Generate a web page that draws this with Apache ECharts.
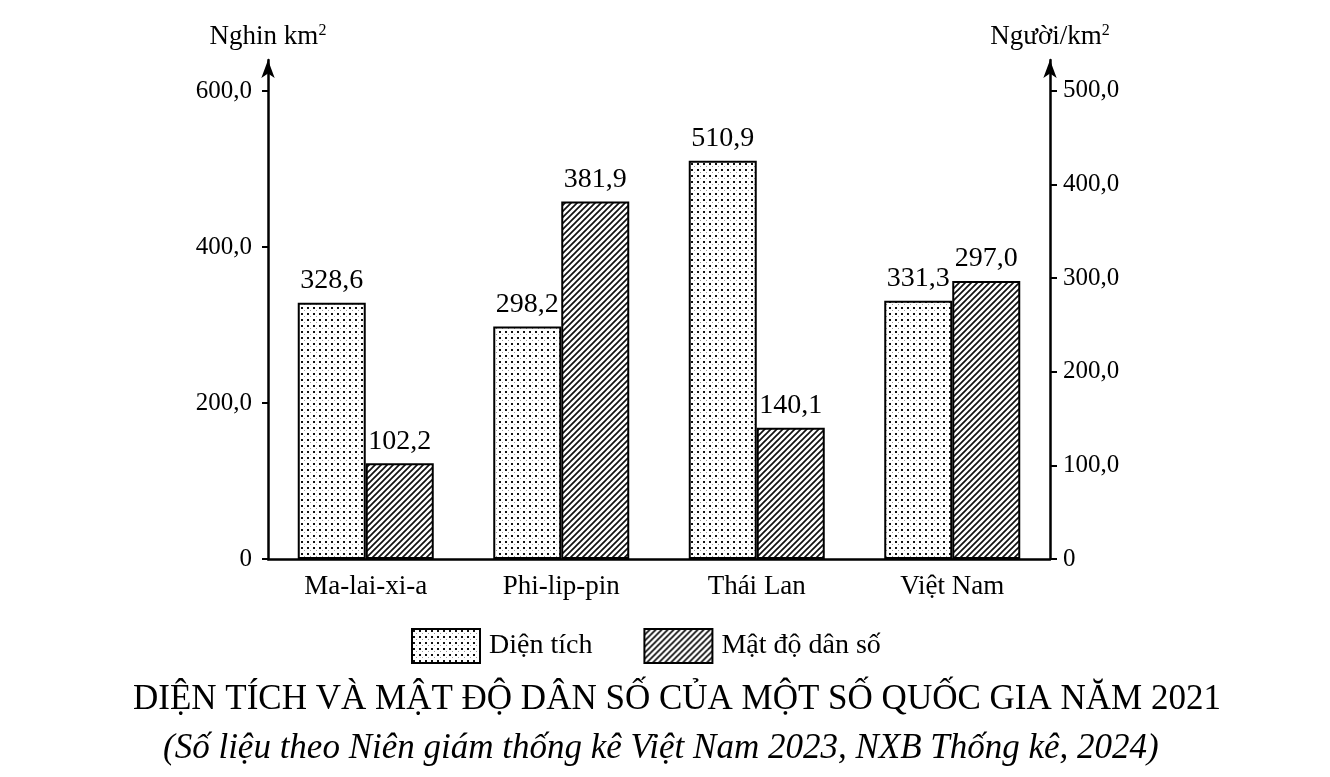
<!DOCTYPE html>
<html>
<head>
<meta charset="utf-8">
<script src="https://cdn.jsdelivr.net/npm/echarts@6/dist/echarts.min.js"></script>
<style>
html,body{margin:0;padding:0;background:#fff;}
#chart{width:1330px;height:777px;}
</style>
</head>
<body>
<div id="chart"></div>
<script>
const categories = ['Ma-lai-xi-a', 'Phi-lip-pin', 'Thái Lan', 'Việt Nam'];
const areaValues = [328.6, 298.2, 510.9, 331.3];      // Nghìn km²
const densityValues = [102.2, 381.9, 140.1, 297.0];   // Người/km²
const leftTicks = [0, 200, 400, 600];
const rightTicks = [0, 100, 200, 300, 400, 500];
const seriesNames = ['Diện tích', 'Mật độ dân số'];
const titleText = 'DIỆN TÍCH VÀ MẬT ĐỘ DÂN SỐ CỦA MỘT SỐ QUỐC GIA NĂM 2021';
const subText = '(Số liệu theo Niên giám thống kê Việt Nam 2023, NXB Thống kê, 2024)';

const FONT = '"Liberation Serif", "Times New Roman", serif';

function dotPattern() {
  const c = document.createElement('canvas');
  c.width = 6; c.height = 6;
  const g = c.getContext('2d');
  g.fillStyle = '#fff'; g.fillRect(0, 0, 6, 6);
  g.fillStyle = '#111'; g.fillRect(1, 1, 2, 2);
  g.fillStyle = '#999'; g.fillRect(4, 4, 1, 1);
  return c;
}
function hatchPattern() {
  const s = 6;
  const c = document.createElement('canvas');
  c.width = s; c.height = s;
  const g = c.getContext('2d');
  g.fillStyle = '#fff'; g.fillRect(0, 0, s, s);
  g.strokeStyle = '#111'; g.lineWidth = 1.7;
  g.beginPath();
  g.moveTo(-1, s + 1); g.lineTo(s + 1, -1);
  g.moveTo(-1, 1); g.lineTo(1, -1);
  g.moveTo(s - 1, s + 1); g.lineTo(s + 1, s - 1);
  g.stroke();
  return c;
}

function fmt(v) {
  return v === 0 ? '0' : v.toFixed(1).replace('.', ',');
}

const chart = echarts.init(document.getElementById('chart'));

const axisLineStyle = { color: '#000', width: 2.5 };

chart.setOption({
  backgroundColor: '#fff',
  animation: false,
  textStyle: { fontFamily: FONT, color: '#000' },
  title: [
    { text: titleText, left: 128, top: 677,
      textStyle: { fontFamily: FONT, fontSize: 35, fontWeight: 'normal', color: '#000' } },
    { text: subText, left: 158, top: 726,
      textStyle: { fontFamily: FONT, fontSize: 35, fontWeight: 'normal', fontStyle: 'italic', color: '#000' } }
  ],
  legend: {
    top: 623, left: 406,
    itemWidth: 68, itemHeight: 34, itemGap: 51,
    icon: 'rect',
    textStyle: { fontFamily: FONT, fontSize: 28, color: '#000', padding: [6, 0, 0, 4] },
    data: seriesNames
  },
  grid: { left: 268, right: 280, top: 60, bottom: 218, containLabel: false },
  xAxis: {
    type: 'category',
    data: categories,
    axisLine: { lineStyle: axisLineStyle },
    axisTick: { show: false },
    axisLabel: { fontFamily: FONT, fontSize: 27, color: '#000', margin: 14 }
  },
  yAxis: [
    {
      type: 'value', min: 0, max: 640, position: 'left',
      name: '{a|Nghin km}{s|2}',
      nameLocation: 'end', nameGap: 10,
      nameTextStyle: { align: 'center', rich: {
        a: { fontFamily: FONT, fontSize: 27, color: '#000' },
        s: { fontFamily: FONT, fontSize: 16, color: '#000', verticalAlign: 'top' } } },
      axisLine: { show: true, lineStyle: axisLineStyle, symbol: ['none', 'arrow'], symbolSize: [10, 18] },
      axisTick: { show: true, length: 6, lineStyle: { color: '#000', width: 2 }, customValues: leftTicks },
      axisLabel: { fontFamily: FONT, fontSize: 25, color: '#000', margin: 16, customValues: leftTicks, formatter: fmt },
      splitLine: { show: false }
    },
    {
      type: 'value', min: 0, max: 533, position: 'right',
      name: '{a|Người/km}{s|2}',
      nameLocation: 'end', nameGap: 10,
      nameTextStyle: { align: 'center', rich: {
        a: { fontFamily: FONT, fontSize: 27, color: '#000' },
        s: { fontFamily: FONT, fontSize: 16, color: '#000', verticalAlign: 'top' } } },
      axisLine: { show: true, lineStyle: axisLineStyle, symbol: ['none', 'arrow'], symbolSize: [10, 18] },
      axisTick: { show: true, length: 7, lineStyle: { color: '#000', width: 2 }, customValues: rightTicks },
      axisLabel: { fontFamily: FONT, fontSize: 25, color: '#000', margin: 13, customValues: rightTicks, formatter: fmt },
      splitLine: { show: false }
    }
  ],
  series: [
    {
      name: seriesNames[0], type: 'bar', yAxisIndex: 0,
      data: areaValues, barWidth: 68, barGap: '0%',
      itemStyle: { color: { image: dotPattern(), repeat: 'repeat' }, borderColor: '#000', borderWidth: 2 },
      label: { show: true, position: 'top', distance: 8, fontFamily: FONT, fontSize: 28, color: '#000',
        formatter: p => fmt(p.value) }
    },
    {
      name: seriesNames[1], type: 'bar', yAxisIndex: 1,
      data: densityValues, barWidth: 68, barGap: '0%',
      itemStyle: { color: { image: hatchPattern(), repeat: 'repeat' }, borderColor: '#000', borderWidth: 2 },
      label: { show: true, position: 'top', distance: 8, fontFamily: FONT, fontSize: 28, color: '#000',
        formatter: p => fmt(p.value) }
    }
  ]
});
</script>
</body>
</html>
